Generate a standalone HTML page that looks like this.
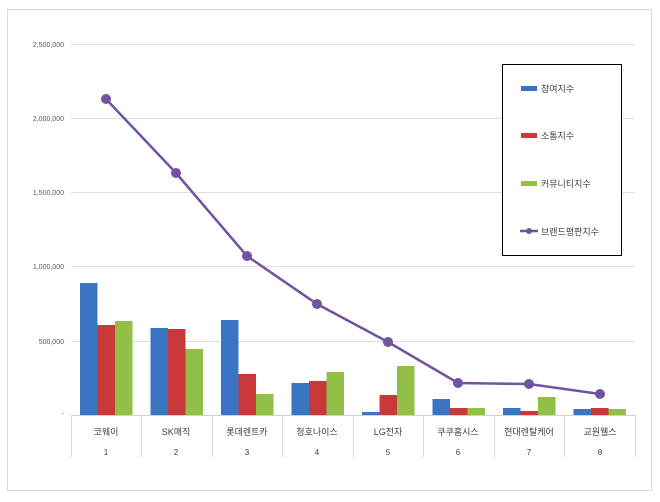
<!DOCTYPE html><html><head><meta charset="utf-8"><style>body{margin:0;background:#fff}</style></head><body>
<svg width="660" height="497" xmlns="http://www.w3.org/2000/svg" font-family="Liberation Sans, Noto Sans CJK KR, sans-serif">
<rect x="0" y="0" width="660" height="497" fill="#fff"/>
<rect x="7.5" y="9.5" width="644" height="481" fill="#fff" stroke="#d9d9d9"/>
<g stroke="#e0e0e0" stroke-width="1">
<line x1="71" y1="44.5" x2="635" y2="44.5"/><line x1="71" y1="118.5" x2="635" y2="118.5"/><line x1="71" y1="192.5" x2="635" y2="192.5"/><line x1="71" y1="266.5" x2="635" y2="266.5"/><line x1="71" y1="341.5" x2="635" y2="341.5"/>
</g>
<line x1="71" y1="415.5" x2="635" y2="415.5" stroke="#d0d0d0"/>
<g stroke="#d9d9d9"><line x1="71.5" y1="415" x2="71.5" y2="457"/><line x1="141.5" y1="415" x2="141.5" y2="457"/><line x1="212.5" y1="415" x2="212.5" y2="457"/><line x1="282.5" y1="415" x2="282.5" y2="457"/><line x1="353.5" y1="415" x2="353.5" y2="457"/><line x1="423.5" y1="415" x2="423.5" y2="457"/><line x1="494.5" y1="415" x2="494.5" y2="457"/><line x1="564.5" y1="415" x2="564.5" y2="457"/><line x1="635.5" y1="415" x2="635.5" y2="457"/></g>
<g font-size="7" fill="#595959" text-anchor="end">
<text x="64" y="47">2,500,000</text><text x="64" y="121">2,000,000</text><text x="64" y="195">1,500,000</text><text x="64" y="269">1,000,000</text><text x="64" y="344">500,000</text><text x="64" y="416">-</text></g>
<g id="bars">
<rect x="80" y="283" width="17.5" height="132" fill="#3a75c4"/><rect x="97.5" y="325" width="17.5" height="90" fill="#c9393a"/><rect x="115" y="321" width="17.5" height="94" fill="#92bf45"/>
<rect x="150.5" y="328" width="17.5" height="87" fill="#3a75c4"/><rect x="168" y="329" width="17.5" height="86" fill="#c9393a"/><rect x="185.5" y="349" width="17.5" height="66" fill="#92bf45"/>
<rect x="221" y="320" width="17.5" height="95" fill="#3a75c4"/><rect x="238.5" y="374" width="17.5" height="41" fill="#c9393a"/><rect x="256" y="394" width="17.5" height="21" fill="#92bf45"/>
<rect x="291.5" y="383" width="17.5" height="32" fill="#3a75c4"/><rect x="309" y="381" width="17.5" height="34" fill="#c9393a"/><rect x="326.5" y="372" width="17.5" height="43" fill="#92bf45"/>
<rect x="362" y="412" width="17.5" height="3" fill="#3a75c4"/><rect x="379.5" y="395" width="17.5" height="20" fill="#c9393a"/><rect x="397" y="366" width="17.5" height="49" fill="#92bf45"/>
<rect x="432.5" y="399" width="17.5" height="16" fill="#3a75c4"/><rect x="450" y="408" width="17.5" height="7" fill="#c9393a"/><rect x="467.5" y="408" width="17.5" height="7" fill="#92bf45"/>
<rect x="503" y="408" width="17.5" height="7" fill="#3a75c4"/><rect x="520.5" y="411" width="17.5" height="4" fill="#c9393a"/><rect x="538" y="397" width="17.5" height="18" fill="#92bf45"/>
<rect x="573.5" y="409" width="17.5" height="6" fill="#3a75c4"/><rect x="591" y="408" width="17.5" height="7" fill="#c9393a"/><rect x="608.5" y="409" width="17.5" height="6" fill="#92bf45"/>
</g>
<polyline points="106,99 176,173 247,256 317,304 388,342 458,383 529,384 600,394" fill="none" stroke="#7153a0" stroke-width="2.5"/>
<g fill="#7153a0"><circle cx="106" cy="99" r="5"/><circle cx="176" cy="173" r="5"/><circle cx="247" cy="256" r="5"/><circle cx="317" cy="304" r="5"/><circle cx="388" cy="342" r="5"/><circle cx="458" cy="383" r="5"/><circle cx="529" cy="384" r="5"/><circle cx="600" cy="394" r="5"/></g>
<g font-size="9" fill="#404040" text-anchor="middle">
<text x="106" y="435">코웨이</text><text x="176" y="435">SK매직</text><text x="247" y="435">롯데렌트카</text><text x="317" y="435">청호나이스</text><text x="388" y="435">LG전자</text><text x="458" y="435">쿠쿠홈시스</text><text x="529" y="435">현대렌탈케어</text><text x="600" y="435">교원웰스</text>
<text x="106" y="455" font-size="8">1</text><text x="176" y="455" font-size="8">2</text><text x="247" y="455" font-size="8">3</text><text x="317" y="455" font-size="8">4</text><text x="388" y="455" font-size="8">5</text><text x="458" y="455" font-size="8">6</text><text x="529" y="455" font-size="8">7</text><text x="600" y="455" font-size="8">8</text>
</g>
<rect x="502.5" y="64.5" width="119" height="191" fill="#fff" stroke="#000"/>
<rect x="521" y="86" width="16" height="5" fill="#3a75c4"/><rect x="521" y="133" width="16" height="5" fill="#c9393a"/><rect x="521" y="181" width="16" height="5" fill="#92bf45"/>
<line x1="520" y1="231" x2="538" y2="231" stroke="#7153a0" stroke-width="2.5"/><circle cx="529" cy="231" r="3" fill="#7153a0"/>
<g font-size="9" fill="#404040"><text x="541" y="92">참여지수</text><text x="541" y="139">소통지수</text><text x="541" y="187">커뮤니티지수</text><text x="541" y="235">브랜드평판지수</text></g>
</svg></body></html>
